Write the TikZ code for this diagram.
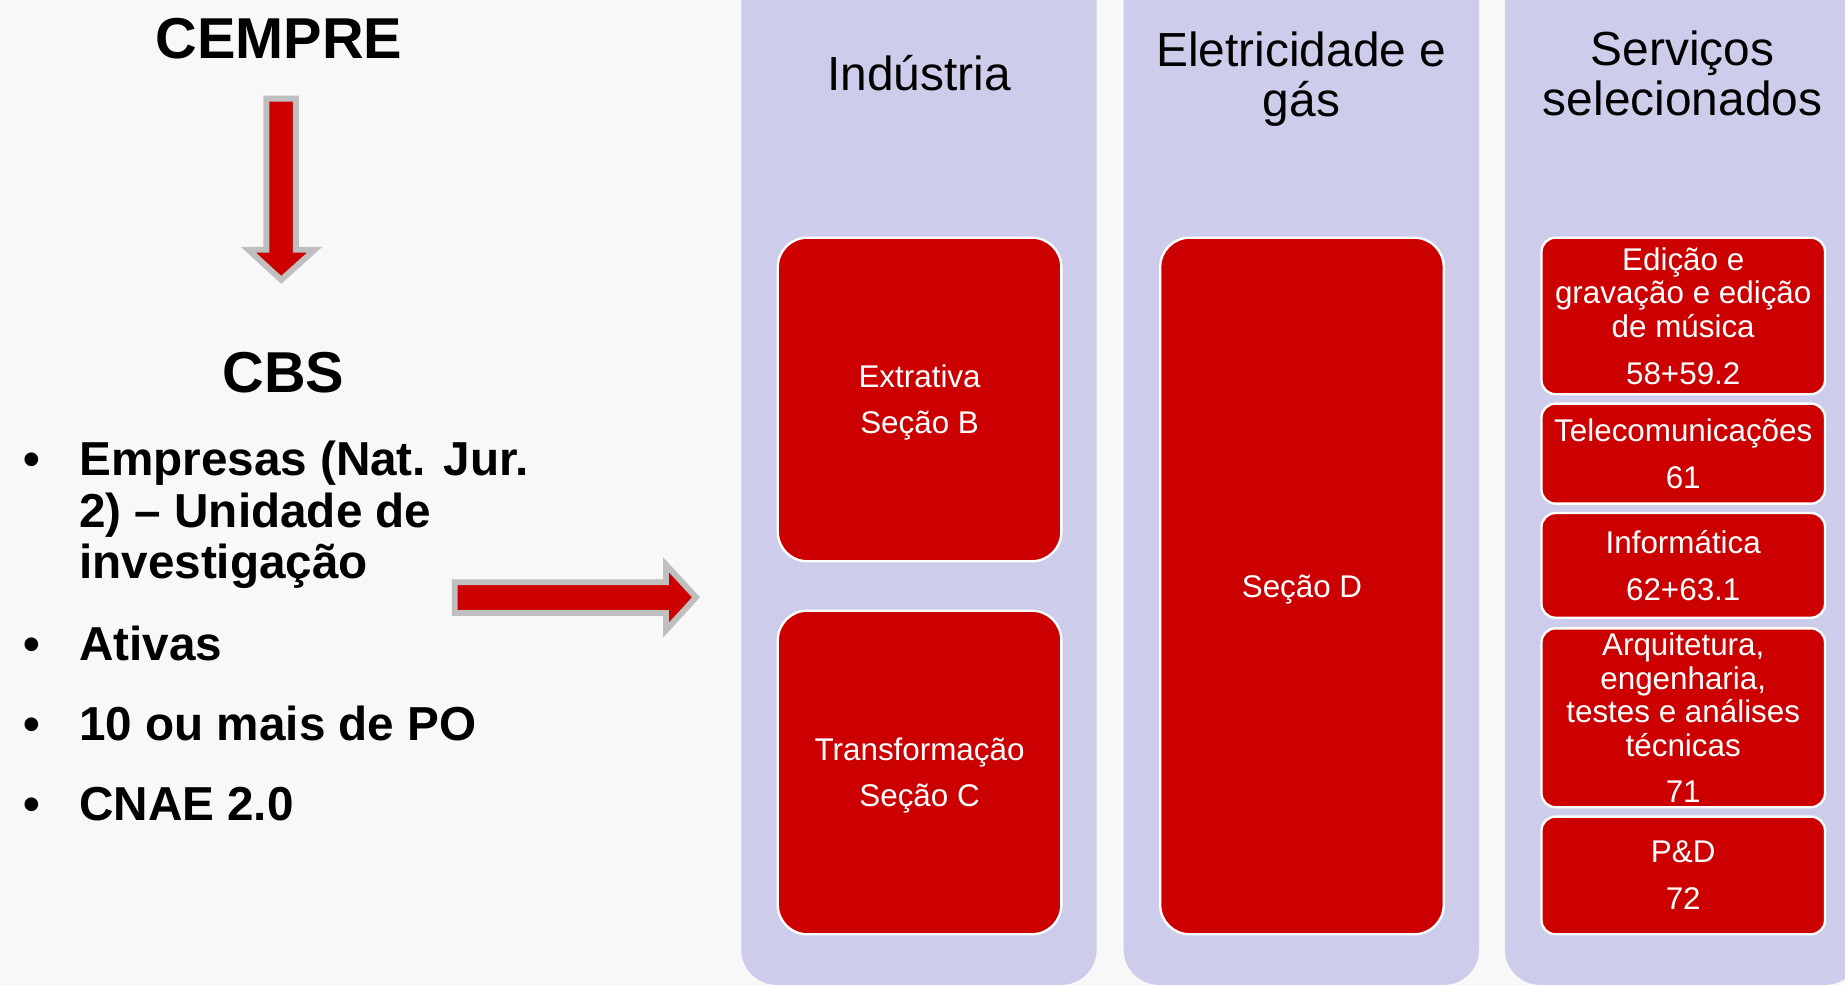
\documentclass[tikz,border=0pt]{standalone}
\usepackage{fontspec}
\setmainfont{Liberation Sans}
\definecolor{bg}{HTML}{F8F8F8}
\definecolor{lav}{HTML}{CDCDEB}
\definecolor{cred}{HTML}{CC0000}
\definecolor{agray}{HTML}{BFBFBF}
\newcommand{\topstrut}{\rule{0pt}{14.7pt}}
\tikzset{
  colbg/.style={fill=lav, rounded corners=18pt},
  redbox/.style={draw=white, line width=1.2pt, fill=cred, text=white, rounded corners=15pt,
    minimum width=144.6pt, align=center, inner sep=0pt,
    font=\fontsize{16}{17.1}\selectfont},
  svcbox/.style={redbox, rounded corners=7.2pt},
  coltitle/.style={font=\fontsize{24.4}{25.8}\selectfont, align=center, inner sep=0pt},
  bigbold/.style={font=\bfseries\fontsize{29.4}{32}\selectfont, anchor=base, inner sep=0pt},
  btext/.style={font=\bfseries\fontsize{24.3}{26.1}\selectfont, anchor=base west, inner sep=0pt},
  bdot/.style={font=\bfseries\fontsize{24.3}{26.1}\selectfont, anchor=base, inner sep=0pt},
  blockarrow/.style={fill=cred, draw=agray, line width=3pt, miter limit=10}
}
\begin{document}
\begin{tikzpicture}[x=0.6pt,y=-0.6pt]
\clip (0,0) rectangle (1568,837);
\fill[bg] (0,0) rectangle (1568,837);
% columns
\fill[colbg] (630,-40) rectangle (932,837);
\fill[colbg] (955,-40) rectangle (1257,837);
\fill[colbg] (1279,-40) rectangle (1581,837);
% column titles
\node[coltitle, anchor=base] (tind) at (781,77.1) {Indústria};
\node[coltitle] (tele) at (1106,67.4) {Eletricidade e\\gás};
\node[coltitle] (tserv) at (1430,62.4) {Serviços\\selecionados};
% industria boxes
\node[redbox, minimum height=165pt] (extr) at (781.5,339.5) {\topstrut Extrativa\\[6.7pt]Seção B};
\node[redbox, minimum height=165pt] (transf) at (781.5,656.5) {\topstrut Transformação\\[6.7pt]Seção C};
% eletricidade
\node[redbox, minimum height=355.2pt] (secd) at (1106.5,498) {\topstrut Seção D};
% servicos
\node[svcbox, minimum height=79.8pt] (s1) at (1430.5,268.5) {Edição e\\gravação e edição\\de música\\[6.7pt]58+59.2};
\node[svcbox, minimum height=51pt] (s2) at (1430.5,385.5) {Telecomunicações\\[6.7pt]61};
\node[svcbox, minimum height=53.4pt] (s3) at (1430.5,480.5) {Informática\\[6.7pt]62+63.1};
\node[svcbox, minimum height=91.2pt] (s4) at (1430.5,610) {Arquitetura,\\engenharia,\\testes e análises\\técnicas\\[6.7pt]71};
\node[svcbox, minimum height=60pt] (s5) at (1430.5,744) {P\&D\\[6.7pt]72};
% left side
\node[bigbold] (cempre) at (237,49.5) {CEMPRE};
\node[bigbold] (cbs) at (241,333.5) {CBS};
\draw[blockarrow] (226.4,83.8) -- (251.5,83.8) -- (251.5,212.2) -- (267.5,212.2) -- (239,237.8) -- (211,212.2) -- (226.4,212.2) -- cycle;
\node[bdot] (d1) at (27,404.5) {•};
\node[btext] (l1a) at (67,404.5) {Empresas (Nat. Jur.};
\node[btext] (l1b) at (67,448) {2) – Unidade de};
\node[btext] (l1c) at (67,491.5) {investigação};
\node[bdot] (d2) at (27,561.5) {•};
\node[btext] (l2) at (67,561.5) {Ativas};
\node[bdot] (d3) at (27,629.5) {•};
\node[btext] (l3) at (67,629.5) {10 ou mais de PO};
\node[bdot] (d4) at (27,697.5) {•};
\node[btext] (l4) at (67,697.5) {CNAE 2.0};
\draw[blockarrow] (386.5,494.8) -- (566,494.8) -- (566,480) -- (591.5,507.6) -- (566,535.5) -- (566,521) -- (386.5,521) -- cycle;
\end{tikzpicture}
\end{document}
